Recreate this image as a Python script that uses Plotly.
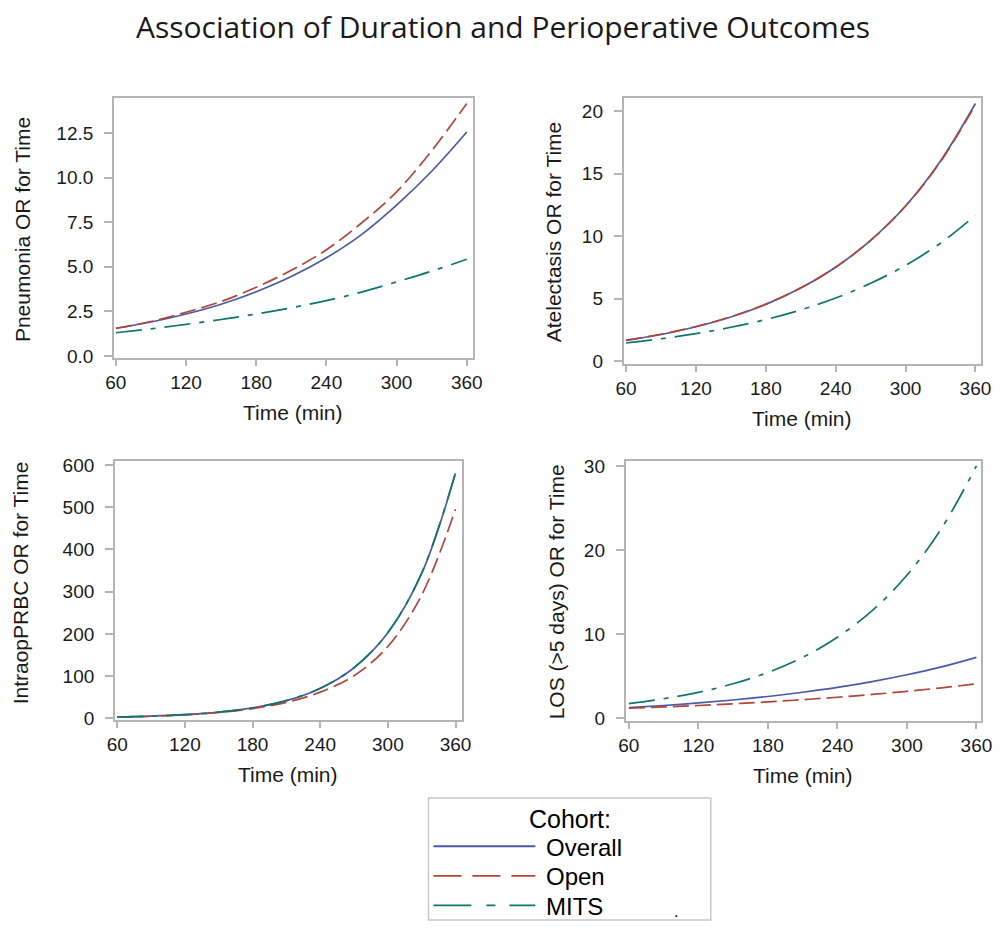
import plotly.graph_objects as go

# ---------------- data ----------------
time_min = [60, 90, 120, 150, 180, 210, 240, 270, 300, 330, 360]
x_ticks = [60, 120, 180, 240, 300, 360]

cohorts = ["Overall", "Open", "MITS"]

pneumonia_overall = [1.55, 1.90, 2.35, 2.90, 3.60, 4.45, 5.50, 6.80, 8.45, 10.35, 12.55]
pneumonia_open = [1.55, 1.93, 2.45, 3.05, 3.85, 4.80, 5.95, 7.45, 9.20, 11.50, 14.15]
pneumonia_mits = [1.30, 1.52, 1.77, 2.04, 2.35, 2.70, 3.10, 3.58, 4.15, 4.75, 5.42]

atelectasis_overall = [1.66, 2.13, 2.75, 3.53, 4.54, 5.84, 7.51, 9.66, 12.40, 16.00, 20.60]
atelectasis_open = [1.68, 2.15, 2.77, 3.55, 4.56, 5.86, 7.52, 9.66, 12.40, 15.95, 20.50]
atelectasis_mits = [1.45, 1.79, 2.20, 2.71, 3.33, 4.10, 5.05, 6.22, 7.66, 9.43, 11.65]

prbc_overall = [3.0, 5.1, 8.6, 14.6, 24.7, 41.8, 70.7, 119.7, 202.7, 343.0, 580.0]
prbc_open = [3.0, 5.0, 8.3, 13.9, 23.0, 38.0, 62.0, 101.0, 170.0, 292.0, 495.0]
prbc_mits = [3.0, 5.1, 8.6, 14.6, 24.8, 42.0, 71.0, 120.0, 203.0, 344.0, 582.0]

los_overall = [1.28, 1.53, 1.83, 2.18, 2.60, 3.10, 3.68, 4.37, 5.18, 6.12, 7.25]
los_open = [1.20, 1.36, 1.53, 1.73, 1.96, 2.22, 2.51, 2.84, 3.21, 3.63, 4.10]
los_mits = [1.75, 2.33, 3.09, 4.11, 5.46, 7.25, 9.64, 12.80, 17.00, 22.60, 30.00]

pneumonia_ticks = [0, 2.5, 5, 7.5, 10, 12.5]
atelectasis_ticks = [0, 5, 10, 15, 20]
prbc_ticks = [0, 100, 200, 300, 400, 500, 600]
los_ticks = [0, 10, 20, 30]

y_titles = ["Pneumonia OR for Time", "Atelectasis OR for Time",
            "IntraopPRBC OR for Time", "LOS (>5 days) OR for Time"]
x_title = "Time (min)"
chart_title = "Association of Duration and Perioperative Outcomes"
legend_title = "Cohort:"

# ---------------- styling / layout ----------------
W, H = 1007, 933
def PX(x):
    return x / W
def PY(y):
    return 1 - y / H

colors = {"Overall": "#4a5aa8", "Open": "#b0453a", "MITS": "#10756a"}
plot_dash = {"Overall": "solid", "Open": "16px,6px", "MITS": "26px,9px,5px,9px"}
legend_dash = {"Overall": "solid", "Open": "28px,11px", "MITS": "38px,15px,9px,14px"}

panels = [
    dict(series=[pneumonia_overall, pneumonia_open, pneumonia_mits], ticks=pneumonia_ticks,
         fmt=".1f", box=(107, 473, 94, 358), xr=[58.3, 365.0], yr=[-0.13, 14.43],
         ytx=14, yty=227),
    dict(series=[atelectasis_overall, atelectasis_open, atelectasis_mits], ticks=atelectasis_ticks,
         fmt="d", box=(627, 992, 94, 364), xr=[57.8, 365.05], yr=[-0.24, 21.0],
         ytx=555, yty=229),
    dict(series=[prbc_overall, prbc_open, prbc_mits], ticks=prbc_ticks,
         fmt="d", box=(108, 462, 462, 726), xr=[57.9, 365.6], yr=[-4.7, 610.2],
         ytx=12, yty=586),
    dict(series=[los_overall, los_open, los_mits], ticks=los_ticks,
         fmt="d", box=(629, 992, 462, 727), xr=[57.1, 364.2], yr=[-0.35, 30.63],
         ytx=559, yty=595),
]

AX_FONT = "Liberation Sans, Arial, sans-serif"
FRAME = "#b4b4b4"
TEXT = "#1a1a1a"

fig = go.Figure()
layout = dict(width=W, height=H, autosize=False, margin=dict(l=0, r=0, t=0, b=0),
              paper_bgcolor="white", plot_bgcolor="white", showlegend=False)
annotations = []
shapes = []

for i, p in enumerate(panels):
    n = "" if i == 0 else str(i + 1)
    xa, ya = "x" + n, "y" + n
    for c, vals in zip(cohorts, p["series"]):
        fig.add_trace(go.Scatter(x=time_min, y=vals, mode="lines", name=c, xaxis=xa, yaxis=ya,
                                 line=dict(color=colors[c], width=1.7, dash=plot_dash[c], shape="spline"),
                                 showlegend=False))
    x0, x1, y0, y1 = p["box"]
    common = dict(showline=True, mirror=True, linecolor=FRAME, linewidth=1.5,
                  ticks="outside", tickwidth=1.5, tickcolor=FRAME,
                  showgrid=False, zeroline=False,
                  tickfont=dict(family=AX_FONT, size=19, color=TEXT))
    layout["xaxis" + n] = dict(common, domain=[PX(x0), PX(x1)], range=p["xr"], anchor=ya,
                               tickvals=x_ticks, ticklen=6, ticklabelstandoff=0)
    layout["yaxis" + n] = dict(common, domain=[PY(y1), PY(y0)], range=p["yr"], anchor=xa,
                               tickvals=p["ticks"], tickformat=p["fmt"], ticklen=8, ticklabelstandoff=7)
    annotations.append(dict(text=x_title, x=PX((x0 + x1) / 2), y=PY(y1 + 55), xref="paper", yref="paper",
                            showarrow=False, xanchor="center", yanchor="middle",
                            font=dict(family=AX_FONT, size=21, color=TEXT)))
    annotations.append(dict(text=y_titles[i], x=PX(p["ytx"]), y=PY(p["yty"]), xref="paper", yref="paper",
                            showarrow=False, xanchor="center", yanchor="middle", textangle=-90,
                            font=dict(family=AX_FONT, size=21, color=TEXT)))

# title
annotations.append(dict(text=chart_title, x=0.5, y=PY(21), xref="paper", yref="paper",
                        showarrow=False, xanchor="center", yanchor="middle",
                        font=dict(family="Open Sans, sans-serif", size=30, color=TEXT)))

# legend box (drawn manually)
shapes.append(dict(type="rect", xref="paper", yref="paper", x0=PX(428), x1=PX(716), y0=PY(929), y1=PY(805),
                   line=dict(color="#c8c8c8", width=1.5), fillcolor="white", layer="below"))
annotations.append(dict(text=legend_title, x=PX(572), y=PY(826), xref="paper", yref="paper",
                        showarrow=False, xanchor="center", yanchor="middle",
                        font=dict(family=AX_FONT, size=25, color="black")))
leg_y = [854, 884, 914]
for c, ly in zip(cohorts, leg_y):
    shapes.append(dict(type="line", xref="paper", yref="paper", x0=PX(433), x1=PX(537), y0=PY(ly), y1=PY(ly),
                       line=dict(color=colors[c], width=1.8, dash=legend_dash[c])))
    annotations.append(dict(text=c, x=PX(546), y=PY(ly + 1), xref="paper", yref="paper",
                            showarrow=False, xanchor="left", yanchor="middle",
                            font=dict(family=AX_FONT, size=24, color="black")))
annotations.append(dict(text=".", x=PX(681), y=PY(920), xref="paper", yref="paper",
                        showarrow=False, xanchor="center", yanchor="middle",
                        font=dict(family=AX_FONT, size=16, color="black")))

layout["annotations"] = annotations
layout["shapes"] = shapes
fig.update_layout(**layout)
fig.write_html("out.html", config={"displayModeBar": False},
               post_script="document.body.style.margin='0';")
